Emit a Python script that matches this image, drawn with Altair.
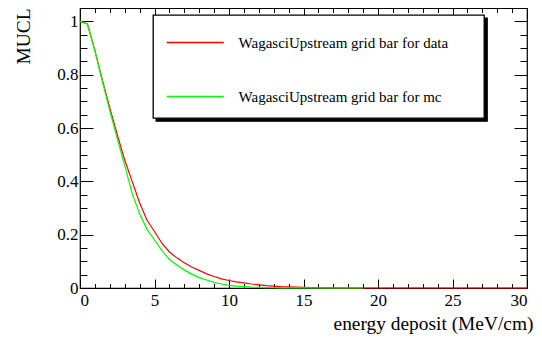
import altair as alt
import pandas as pd

series_names = ["WagasciUpstream grid bar for data", "WagasciUpstream grid bar for mc"]
series_colors = ["#ff0000", "#00ff00"]

energy_data = [0.0, 0.5, 1.0, 1.5, 2.0, 2.5, 3.0, 3.5, 4.0, 4.5, 5.0, 5.5, 6.0, 6.5, 7.0,
               7.5, 8.0, 8.5, 9.0, 9.5, 10.0, 10.5, 11.0, 11.5, 12.0, 12.5, 13.0, 13.5,
               14.0, 15.0, 16.0, 17.0, 18.0, 19.0, 20.0, 21.0, 22.0, 23.0, 24.0, 25.0,
               26.0, 27.0, 28.0, 29.0, 30.0]
mucl_data = [1.0, 0.99, 0.89, 0.78, 0.675, 0.575, 0.48, 0.40, 0.32, 0.254, 0.212, 0.168,
             0.135, 0.113, 0.095, 0.079, 0.066, 0.053, 0.043, 0.034, 0.028, 0.023, 0.019,
             0.015, 0.012, 0.009, 0.007, 0.005, 0.004, 0.002, 0.001, 0.0005, 0.0, 0.0,
             0.0, 0.0, 0.0, 0.0, 0.0, 0.0, 0.0, 0.0, 0.0, 0.0, 0.0]

energy_mc = [0.0, 0.5, 1.0, 1.5, 2.0, 2.5, 3.0, 3.5, 4.0, 4.5, 5.0, 5.5, 6.0, 6.5, 7.0,
             7.5, 8.0, 8.5, 9.0, 9.5, 10.0, 10.5, 11.0, 11.5, 12.0, 12.5, 13.0, 13.5,
             14.0, 15.0, 16.0, 17.0, 18.0, 19.0]
mucl_mc = [1.0, 0.99, 0.89, 0.775, 0.665, 0.56, 0.46, 0.355, 0.278, 0.22, 0.18, 0.14,
           0.108, 0.086, 0.068, 0.052, 0.039, 0.03, 0.021, 0.015, 0.01, 0.007, 0.005,
           0.003, 0.002, 0.0015, 0.001, 0.0007, 0.0005, 0.0002, 0.0, 0.0, 0.0, 0.0]

x_major = [0, 5, 10, 15, 20, 25, 30]
x_ticks = list(range(31))
y_major = [0, 0.2, 0.4, 0.6, 0.8, 1.0]
y_ticks = [round(i * 0.05, 2) for i in range(21)]

df = pd.concat([
    pd.DataFrame({"energy": energy_data, "mucl": mucl_data, "series": series_names[0]}),
    pd.DataFrame({"energy": energy_mc, "mucl": mucl_mc, "series": series_names[1]}),
])
df["shadow"] = df["series"]

W, H = 447, 280
FONT = "Liberation Serif"

xs = alt.Scale(domain=[0, 30], nice=False, zero=False)
ys = alt.Scale(domain=[0, 1.05], nice=False)

XMAJ = "datum.value % 5 === 0"
YMAJ = "abs(datum.value * 5 - round(datum.value * 5)) < 0.001"

LEG = dict(title=None, padding=13, symbolSize=751, symbolStrokeWidth=1.5,
           labelFont=FONT, labelFontSize=15, labelLimit=500, rowPadding=31,
           orient="none")


def tick_axis(orient, values, test, major, minor, offset):
    return alt.Axis(orient=orient, values=values, labels=False, domain=False, grid=False,
                    title=None, ticks=True, tickColor="black", tickWidth=1,
                    tickSize={"condition": {"test": test, "value": major}, "value": minor},
                    offset=offset)


base = alt.Chart(df)

lines = base.mark_line(strokeWidth=1.2).encode(
    x=alt.X("energy:Q", scale=xs, axis=alt.Axis(
        orient="bottom", values=x_major, ticks=False, domain=False, grid=False,
        labelFont=FONT, labelFontSize=17, labelPadding=4, labelColor="black",
        title="energy deposit (MeV/cm)", titleFont=FONT, titleFontSize=19.4,
        titleFontWeight="normal", titleColor="black", titleAlign="right",
        titleAnchor="end", titleX=W + 6, titleY=41, titleBaseline="alphabetic")),
    y=alt.Y("mucl:Q", scale=ys, axis=alt.Axis(
        orient="left", values=y_major, ticks=False, domain=False, grid=False, format="~g",
        labelFont=FONT, labelFontSize=17, labelPadding=2, labelColor="black",
        title="MUCL", titleFont=FONT, titleFontSize=19.4, titleFontWeight="normal",
        titleColor="black", titleAngle=270, titleAlign="right", titleAnchor="end",
        titleX=-51, titleY=0, titleBaseline="alphabetic")),
    color=alt.Color("series:N", scale=alt.Scale(domain=series_names, range=series_colors),
                    legend=alt.Legend(legendX=73, legendY=7, strokeColor="black",
                                      fillColor="white", labelColor="black",
                                      symbolType="M-1,0L3.16,0", labelOffset=43.6,
                                      labelExpr="datum.label + '\u2800\u2800'", **LEG)),
)

ticks_a = base.mark_line(opacity=0).encode(
    x=alt.X("energy:Q", scale=xs, axis=tick_axis("top", x_ticks, XMAJ, 9, 4.5, -H)),
    y=alt.Y("mucl:Q", scale=ys, axis=tick_axis("right", y_ticks, YMAJ, 13, 7, -W)),
    strokeDash=alt.StrokeDash("shadow:N", legend=alt.Legend(
        legendX=76, legendY=10, strokeColor="black", fillColor="black",
        labelColor="black", symbolOpacity=0, labelExpr="''", labelOffset=275.6,
        symbolType="M-1,0L3.16,0M-1,-0.55L-1,0.55", **LEG)),
)

ticks_b = base.mark_line(opacity=0).encode(
    x=alt.X("energy:Q", scale=xs, axis=tick_axis("bottom", x_ticks, XMAJ, 9, 4.5, -H)),
    y=alt.Y("mucl:Q", scale=ys, axis=tick_axis("left", y_ticks, YMAJ, 13, 7, -W)),
    detail="series:N",
)

chart = alt.layer(ticks_a, ticks_b, lines).resolve_scale(
    x="shared", y="shared"
).resolve_axis(
    x="independent", y="independent"
).properties(
    width=W, height=H,
    padding={"left": 72, "top": 0, "right": 7, "bottom": 48},
    autosize=alt.AutoSizeParams(type="none"),
    background="white",
).configure_view(
    stroke="black", strokeWidth=1.2
).configure_legend(strokeWidth=1.3)

chart.save("out.html", embed_options={"renderer": "svg", "actions": False})
